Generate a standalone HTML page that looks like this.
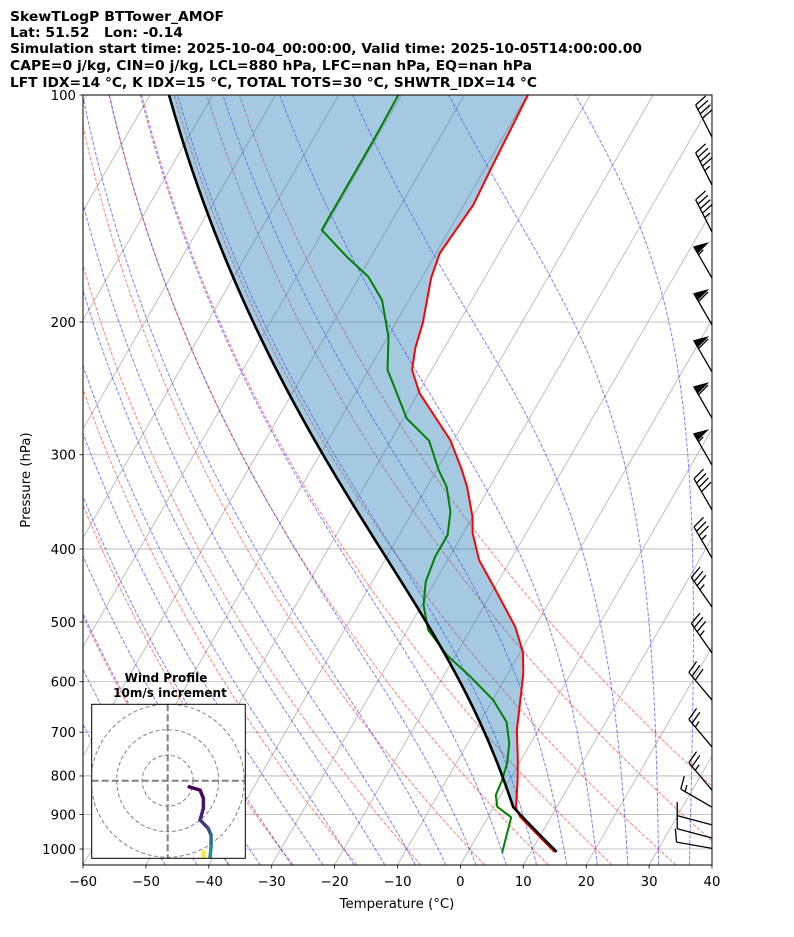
<!DOCTYPE html>
<html><head><meta charset="utf-8"><style>
html,body{margin:0;padding:0;background:#fff;}
svg{display:block;font-family:"DejaVu Sans","Liberation Sans",sans-serif;}
</style></head><body>
<svg id="chart" width="794" height="937" viewBox="0 0 794 937" xmlns="http://www.w3.org/2000/svg">
<defs>
<clipPath id="plotclip"><rect x="83" y="95" width="629" height="770"/></clipPath>
<clipPath id="insetclip"><rect x="91.7" y="704.3" width="153.6" height="154"/></clipPath>
</defs>
<g font-weight="bold" font-size="13.5" fill="#000" style="white-space:pre">
<text x="10" y="21" textLength="214" lengthAdjust="spacingAndGlyphs">SkewTLogP BTTower_AMOF</text>
<text x="10" y="37" textLength="173" lengthAdjust="spacingAndGlyphs" xml:space="preserve">Lat: 51.52   Lon: -0.14</text>
<text x="10" y="53" textLength="632" lengthAdjust="spacingAndGlyphs">Simulation start time: 2025-10-04_00:00:00, Valid time: 2025-10-05T14:00:00.00</text>
<text x="10" y="70" textLength="522" lengthAdjust="spacingAndGlyphs">CAPE=0 j/kg, CIN=0 j/kg, LCL=880 hPa, LFC=nan hPa, EQ=nan hPa</text>
<text x="10" y="87" textLength="527" lengthAdjust="spacingAndGlyphs">LFT IDX=14 °C, K IDX=15 °C, TOTAL TOTS=30 °C, SHWTR_IDX=14 °C</text>
</g>
<g id="bg" clip-path="url(#plotclip)"></g>
<g id="prof" clip-path="url(#plotclip)"></g>
<g id="barbs"></g>
<g id="inset"></g>
<g id="axes"></g>
</svg>
<script>
// ---- data ----
const tempP = [100,125.7,139.9,162.2,174.9,200.6,216.5,231.5,248.5,286.8,314.3,331.1,362.8,381.1,413.8,457.6,507.7,548.0,584.3,634.6,695.5,762.1,810.0,882.1,906.8,1009.3];
const tempT = [-59.9,-59.0,-58.5,-59.4,-58.5,-55.7,-54.6,-53.1,-49.8,-40.6,-36.0,-33.6,-30.0,-28.5,-25.0,-19.1,-13.1,-9.6,-7.6,-5.6,-3.4,-0.5,1.3,3.6,5.1,13.8];
const dewP = [100,114.7,151.0,163.8,174.2,187.0,209.2,231.5,268.5,287.4,314.3,330.7,356.9,383.4,409.7,442.1,474.8,512.2,553.1,590.8,634.6,678.2,724.2,769.6,814.2,847.9,878.7,907.7,1011.4];
const dewT = [-80.5,-80.3,-80.3,-73.9,-68.6,-64.3,-59.9,-57.0,-49.5,-43.9,-39.7,-36.9,-34.0,-32.3,-32.3,-31.5,-29.7,-26.7,-21.4,-15.7,-9.9,-5.8,-3.4,-1.9,-1.1,-0.8,0.5,3.7,5.5];
const sfcP = 1009, sfcT = 14.1, lclP = 880;
const barbP = [113.7,131.6,151.9,174.9,201.8,233.0,268.2,309.6,355.0,411.3,477.5,549.6,634.6,732.3,835.6,880,929,967,998];
const barbSpd = [40,45,45,55,60,60,60,55,40,35,35,35,30,25,25,15,10,10,10];
const barbDir = [333,333,333,330,330,330,330,330,330,330,325,325,320,320,320,300,285,285,280];
const hodoU = [8.4,12.7,14.0,14.0,12.7,15.9,17.0,17.0,16.6];
const hodoV = [-2.4,-3.7,-6.9,-10.8,-15.4,-18.7,-21.3,-25.9,-30.2];
const hodoCol = ['#440154','#46085c','#471365','#481f70','#453781','#3b528b','#2c728e','#21918c'];
const pTicks = [100,200,300,400,500,600,700,800,900,1000];
const tTicks = [-60,-50,-40,-30,-20,-10,0,10,20,30,40];
const dryT0 = [-40,-30,-20,-10,0,10,20,30,40,50];
const moistT0 = [-50,-45,-40,-35,-30,-25,-20,-15,-10,-5,0,5,10,15,20,25,30,35,40,45];

// ---- scales ----
const NS='http://www.w3.org/2000/svg';
function yP(p){return 95+754*Math.log10(p/100);}
function xT(T,p){return 83+(T+60)*6.29+0.577*(865-yP(p));}
function mk(tag,attrs,parent){const e=document.createElementNS(NS,tag);for(const k in attrs)e.setAttribute(k,attrs[k]);parent.appendChild(e);return e;}
function ptsStr(a){return a.map(q=>q[0].toFixed(2)+','+q[1].toFixed(2)).join(' ');}
function moistRate(p,T){const tc=T-273.15;const es=6.112*Math.exp(17.67*tc/(tc+243.5));const rs=0.622*es/(p-es);
 const num=287.04*T+2.501e6*rs;const den=1004.6+2.501e6*2.501e6*rs*0.622/(287.04*T*T);return num/den/p;}
function moistPath(p0,T0c,pEnd,n){let T=T0c+273.15,p=p0;const out=[[p,T-273.15]];const dp=(pEnd-p0)/n;
 for(let i=0;i<n;i++){const k1=moistRate(p,T);const k2=moistRate(p+dp/2,T+k1*dp/2);const k3=moistRate(p+dp/2,T+k2*dp/2);const k4=moistRate(p+dp,T+k3*dp);
  T+=dp*(k1+2*k2+2*k3+k4)/6;p+=dp;out.push([p,T-273.15]);}return out;}

const bg=document.getElementById('bg');
pTicks.forEach(p=>{const l=mk('line',{x1:83,x2:712,y1:yP(p),y2:yP(p),stroke:'#b0b0b0','stroke-width':0.8},bg);

});
for(let t=-200;t<=40;t+=10){const l=mk('line',{x1:xT(t,1050),y1:yP(1050),x2:xT(t,100),y2:yP(100),stroke:'#b0b0b0','stroke-width':0.8},bg);

}
const pGrid=[];for(let i=0;i<=80;i++)pGrid.push(1050*Math.pow(100/1050,i/80));
dryT0.forEach(t0=>{const pts=pGrid.map(p=>{const T=(t0+273.15)*Math.pow(p/1000,0.2857)-273.15;return [xT(T,p),yP(p)];});
const l=mk('polyline',{points:ptsStr(pts),fill:'none',stroke:'#ff0000','stroke-opacity':0.5,'stroke-width':1,'stroke-dasharray':'3.7,1.6'},bg);

});
moistT0.forEach(t0=>{const up=moistPath(1000,t0,100,90);const dn=moistPath(1000,t0,1050,5);const all=dn.reverse().concat(up.slice(1));
const pts=all.map(q=>[xT(q[1],q[0]),yP(q[0])]);
const l=mk('polyline',{points:ptsStr(pts),fill:'none',stroke:'#0000ff','stroke-opacity':0.5,'stroke-width':1,'stroke-dasharray':'3.7,1.6'},bg);

});

// parcel
const prof=document.getElementById('prof');
const parcel=[];
for(let i=0;i<=10;i++){const p=sfcP+(lclP-sfcP)*i/10;const T=(sfcT+273.15)*Math.pow(p/sfcP,0.2857)-273.15;parcel.push([p,T]);}
const lclT=parcel[parcel.length-1][1];
const moistPart=moistPath(lclP,lclT,100,120);
const parcelAll=parcel.concat(moistPart.slice(1));
function interpT(p){for(let i=0;i<tempP.length-1;i++){if(p>=tempP[i]&&p<=tempP[i+1]){const f=Math.log(p/tempP[i])/Math.log(tempP[i+1]/tempP[i]);return tempT[i]+f*(tempT[i+1]-tempT[i]);}}return tempT[tempT.length-1];}
const tl=interpT(lclP);
const fillPts=moistPart.map(q=>[xT(q[1],q[0]),yP(q[0])]);
for(let i=0;i<tempP.length;i++){if(tempP[i]<lclP)fillPts.push([xT(tempT[i],tempP[i]),yP(tempP[i])]);}
fillPts.push([xT(tl,lclP),yP(lclP)]);
const fillEl=mk('polygon',{points:ptsStr(fillPts),fill:'#1f77b4','fill-opacity':0.4,stroke:'none'},prof);


const tLine=mk('polyline',{points:ptsStr(tempP.map((p,i)=>[xT(tempT[i],p),yP(p)])),fill:'none',stroke:'#ff0000','stroke-width':2,'stroke-linejoin':'round'},prof);


const dLine=mk('polyline',{points:ptsStr(dewP.map((p,i)=>[xT(dewT[i],p),yP(p)])),fill:'none',stroke:'#008000','stroke-width':2,'stroke-linejoin':'round'},prof);


const pLine=mk('polyline',{points:ptsStr(parcelAll.map(q=>[xT(q[1],q[0]),yP(q[0])])),fill:'none',stroke:'#000','stroke-width':2.6,'stroke-linejoin':'round'},prof);



// wind barbs
const bgB=document.getElementById('barbs');
barbP.forEach((p,i)=>{
 const g=mk('g',{stroke:'#000','stroke-width':1.3,fill:'#000'},bgB);
 
 
 const d=barbDir[i]*Math.PI/180;const ux=Math.sin(d),uy=-Math.cos(d);const nx=-uy,ny=ux;
 const L=36,H=13,Wd=7,SP=5;const bx=712,by=yP(p);const tx=bx+ux*L,ty=by+uy*L;
 mk('line',{x1:bx,y1:by,x2:tx,y2:ty},g);
 let s=Math.round(barbSpd[i]/5)*5;let pos=0;
 const nf=Math.floor(s/50);s-=nf*50;const nb=Math.floor(s/10);s-=nb*10;const nh=s>=5?1:0;
 for(let k=0;k<nf;k++){const px=tx-ux*pos,py=ty-uy*pos;
  mk('polygon',{points:ptsStr([[px,py],[px-ux*Wd,py-uy*Wd],[px-ux*Wd/2+nx*H,py-uy*Wd/2+ny*H]])},g);pos+=Wd+1;}
 if(nf>0&&(nb+nh)>0)pos+=1;
 for(let k=0;k<nb;k++){const px=tx-ux*pos,py=ty-uy*pos;mk('line',{x1:px,y1:py,x2:px+nx*H+ux*Wd/2,y2:py+ny*H+uy*Wd/2,fill:'none'},g);pos+=SP;}
 if(nh){if(pos===0)pos=SP;const px=tx-ux*pos,py=ty-uy*pos;mk('line',{x1:px,y1:py,x2:px+nx*H/2+ux*Wd/4,y2:py+ny*H/2+uy*Wd/4,fill:'none'},g);}
});

// inset hodograph
const ins=document.getElementById('inset');
const cx=167.7,cy=780.7,sc=2.55;
const ibg=mk('rect',{x:91.7,y:704.3,width:153.6,height:154,fill:'#fff',stroke:'none'},ins);


const ig=mk('g',{'clip-path':'url(#insetclip)'},ins);
[10,20,30].forEach(r=>{const c=mk('circle',{cx:cx,cy:cy,r:r*sc,fill:'none',stroke:'#808080','stroke-width':1,'stroke-dasharray':'4,2.5'},ig);

});
const ch1=mk('line',{x1:91.7,x2:245.3,y1:cy,y2:cy,stroke:'#808080','stroke-width':2,'stroke-dasharray':'7,3'},ig);


const ch2=mk('line',{x1:cx,x2:cx,y1:704.3,y2:858.3,stroke:'#808080','stroke-width':2,'stroke-dasharray':'7,3'},ig);


for(let i=0;i<hodoU.length-1;i++){const s=mk('line',{x1:cx+hodoU[i]*sc,y1:cy-hodoV[i]*sc,x2:cx+hodoU[i+1]*sc,y2:cy-hodoV[i+1]*sc,stroke:hodoCol[i],'stroke-width':3.5,'stroke-linecap':'round'},ig);

}
const ys=mk('line',{x1:cx+14*sc,y1:cy+27.3*sc,x2:cx+14*sc,y2:cy+31*sc,stroke:'#fde725','stroke-width':3.5},ig);


const ib=mk('rect',{x:91.7,y:704.3,width:153.6,height:154,fill:'none',stroke:'#000','stroke-width':1},ins);


const it1=mk('text',{x:166,y:682,'text-anchor':'middle','font-size':12,'font-weight':'bold'},ins);it1.textContent='Wind Profile';


const it2=mk('text',{x:170,y:697,'text-anchor':'middle','font-size':12,'font-weight':'bold'},ins);it2.textContent='10m/s increment';



// axes
const ax=document.getElementById('axes');
const fr=mk('rect',{x:83,y:95,width:629,height:770,fill:'none',stroke:'#000','stroke-width':1},ax);


pTicks.forEach(p=>{const y=yP(p);mk('line',{x1:79.5,x2:83,y1:y,y2:y,stroke:'#000','stroke-width':0.8},ax);
const t=mk('text',{x:76,y:y+4.8,'text-anchor':'end','font-size':13.3},ax);t.textContent=String(p);

});
tTicks.forEach(T=>{const x=83+(T+60)*6.29;mk('line',{x1:x,x2:x,y1:865,y2:868.5,stroke:'#000','stroke-width':0.8},ax);
const t=mk('text',{x:x,y:886,'text-anchor':'middle','font-size':13.3},ax);t.textContent=(T<0?'\u2212'+(-T):String(T));

});
const xl=mk('text',{x:397,y:908,'text-anchor':'middle','font-size':13.3},ax);xl.textContent='Temperature (\u00B0C)';


const yl=mk('text',{x:0,y:0,'text-anchor':'middle','font-size':13.3,transform:'translate(30,480) rotate(-90)'},ax);yl.textContent='Pressure (hPa)';


</script>
</body></html>
